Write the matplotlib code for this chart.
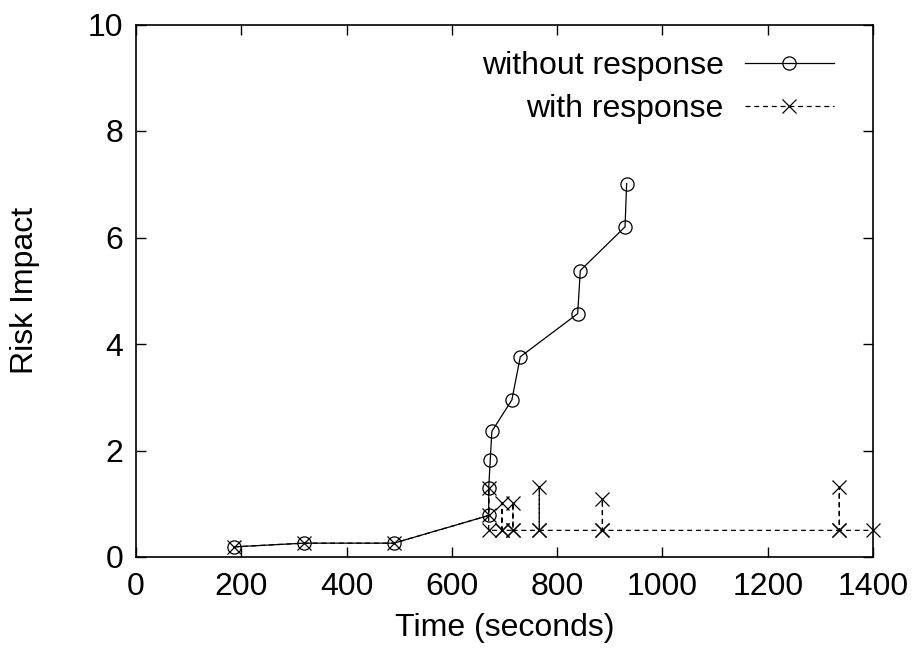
import matplotlib
matplotlib.use("Agg")
import matplotlib.pyplot as plt

# ---- data ----
t_without = [186, 319, 490, 670, 670, 673, 676, 714, 730, 839, 844, 929, 932]
r_without = [0.19, 0.26, 0.26, 0.78, 1.30, 1.83, 2.36, 2.95, 3.76, 4.57, 5.38, 6.20, 7.01]

t_with = [186, 319, 490, 670, 670, 670, 695, 695, 695, 716, 716, 716,
          766, 766, 766, 886, 886, 886, 1336, 1336, 1336, 1400]
r_with = [0.19, 0.26, 0.26, 0.78, 1.30, 0.50, 0.50, 1.02, 0.50, 0.50, 1.02, 0.50,
          0.50, 1.32, 0.50, 0.50, 1.08, 0.50, 0.50, 1.31, 0.50, 0.50]

xticks = [0, 200, 400, 600, 800, 1000, 1200, 1400]
yticks = [0, 2, 4, 6, 8, 10]

plt.rcParams['font.family'] = ['Liberation Sans', 'DejaVu Sans']
FS = 23

W, H = 914, 651
fig = plt.figure(figsize=(W / 100, H / 100), dpi=100)
L, R, T, B = 136, 873, 24.5, 557
ax = fig.add_axes([L / W, 1 - B / H, (R - L) / W, (B - T) / H])

ax.plot(t_without, r_without, color='black', lw=0.9, marker='o', ms=9.5,
        mfc='none', mec='black', mew=0.9, label='without response', clip_on=False)
ax.plot(t_with, r_with, color='black', lw=0.9, ls=(0, (4, 3)), marker='x', ms=10,
        mec='black', mew=0.9, label='with response', clip_on=False)

ax.set_xlim(0, 1400)
ax.set_ylim(0, 10)
ax.set_xticks(xticks)
ax.set_yticks(yticks)
ax.tick_params(direction='in', length=7, width=1.0, top=True, right=True,
               labelsize=FS)
ax.tick_params(axis='y', pad=9)
ax.tick_params(axis='x', pad=11)
for s in ax.spines.values():
    s.set_linewidth(1.2)

ax.set_xlabel('Time (seconds)', fontsize=FS, labelpad=8)
ax.set_ylabel('Risk Impact', fontsize=FS)
ax.yaxis.set_label_coords((40 - L) / (R - L), 0.5)

ax.legend(loc='upper right', bbox_to_anchor=(834 / W, 1 - 51 / H),
          bbox_transform=fig.transFigure, markerfirst=False, frameon=False,
          handlelength=2.8, handletextpad=0.65, borderpad=0, borderaxespad=0,
          labelspacing=0.42, fontsize=FS)

fig.savefig('out.png', dpi=100)
